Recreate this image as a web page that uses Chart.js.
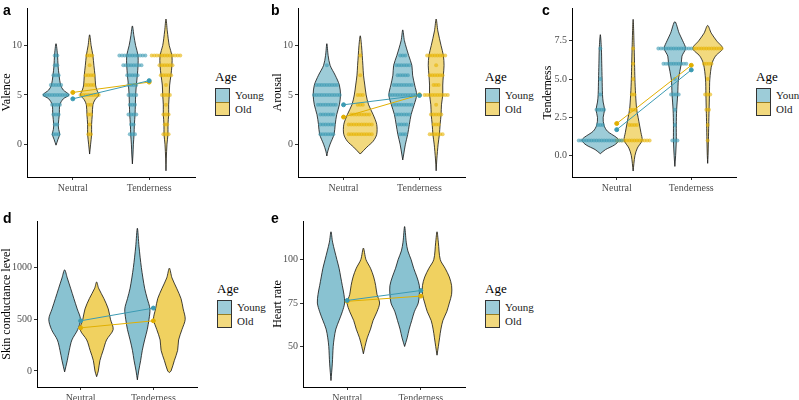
<!DOCTYPE html>
<html>
<head>
<meta charset="utf-8">
<script src="https://cdn.jsdelivr.net/npm/chart.js@4.4.1/dist/chart.umd.min.js"></script>
<style>
  body { margin: 0; width: 799px; height: 400px; overflow: hidden; background: #fff; position: relative; }
  canvas { position: absolute; }
  .tag { position: absolute; font: bold 14px "Liberation Sans", Arial, sans-serif; color: #000; }
  .legend { position: absolute; font-family: "Liberation Serif", serif; font-weight: normal; color: #000; }
  .legend .title { font-size: 13px; margin-bottom: 3px; }
  .legend .row { display: flex; align-items: center; height: 14px; font-size: 11px; font-weight: normal; color: #1a1a1a; }
  .legend .box { width: 13px; height: 13px; border: 1px solid #333; margin-right: 5px; box-sizing: content-box; }
  .legend .row + .row .box { border-top: none; }
</style>
</head>
<body>
<script>
// categories and groups
const categories = ['Neutral', 'Tenderness'];
const groups = ['Young', 'Old'];

// violin outlines: [value, relative half width (% of category spacing)]
const valenceYoungNeutral = [[-0.1,0],[0.5,2.6],[1,4.8],[1.5,3.5],[2,3],[3,4.3],[4,5],[4.6,9.5],[5,17],[5.5,9.5],[6,6],[7,4],[8,2.6],[9,2],[10.2,0]];
const valenceOldNeutral = [[-1,0],[0,1.3],[1,2.6],[2,2.6],[3,3.5],[4,4.3],[4.5,7],[5,12],[5.5,9.5],[6,7.8],[7,7],[8,5.6],[9,4.3],[10,2],[11.1,0]];
const valenceYoungTender = [[-2,0],[-1,0.8],[0,1.3],[1,2.2],[2,2.6],[3,3.5],[4,3.9],[5,4.3],[6,5.2],[7,6.5],[8,7.4],[9,7.4],[10,4.3],[11,2],[12,0]];
const valenceOldTender = [[-2.7,0],[-1.5,0.4],[0,1.3],[1,2.6],[2,2.6],[3,3.5],[4,3.5],[5,4.3],[6,4.8],[7,6.5],[8,7.8],[9,7.8],[10,4.3],[11.5,1.7],[12.7,0]];

const arousalYoungNeutral = [[-1.2,0],[-0.7,1.3],[0,4.3],[1,9.5],[2,11],[3,13],[4,16.5],[5,18],[6,16.5],[7,11],[8,4.3],[9,1.7],[10.2,0]];
const arousalOldNeutral = [[-1,0],[-0.3,8.7],[0.3,17],[1,21.7],[2,21.7],[3,17],[4,11],[5,7.8],[6,6],[7,4.3],[8,3.5],[9,2.6],[10,1.7],[11,0]];
const arousalYoungTender = [[-1.6,0],[-1,1.3],[0,3.5],[1,6.5],[2,8.7],[3,11],[4,15],[5,18.3],[6,15.7],[7,13],[8,12],[9,7.8],[10.5,2.2],[11.6,0]];
const arousalOldTender = [[-2.7,0],[-1.5,0.9],[0,2.6],[1,4.3],[2,5.2],[3,6.5],[4,7],[5,8.7],[6,8.7],[7,9.5],[8,10.4],[9,9.5],[10,6.5],[11.5,2.2],[12.7,0]];

const tenderYoungNeutral = [[0.13,0],[0.4,7],[0.7,19],[1,24.8],[1.2,21.4],[1.6,9.5],[2,4.8],[2.5,3.8],[3,5.7],[3.5,3.8],[4,2.9],[5,2.4],[6,1.9],[7,1.4],[7.9,0]];
const tenderOldNeutral = [[-1,0],[0,2.4],[0.5,5.7],[1,12],[1.5,10.5],[2,8.6],[2.5,6.7],[3,4.8],[4,3.3],[5,2.4],[6,1.9],[7,1.4],[8.9,0]];
const tenderYoungTender = [[-0.7,0],[0,1],[1,1.9],[2,1.9],[3,2.4],[4,3.8],[5,4.8],[6,8.6],[6.5,9.5],[7,14.3],[7.5,10.5],[8,5.7],[8.75,0]];
const tenderOldTender = [[-0.5,0],[0,0.5],[1,1],[2,1.4],[3,1.9],[4,2.4],[5,2.9],[6,5.7],[6.5,10.5],[7,20],[7.5,12],[8,4.8],[8.5,0]];

const scYoungNeutral = [[-9,0],[100,3.6],[200,6.4],[300,10],[400,18],[500,21.8],[600,17.3],[700,12.7],[800,8.2],[900,3.6],[978,0]];
const scOldNeutral = [[-55,0],[0,2.3],[100,4.5],[200,9],[300,13.6],[400,22.7],[500,19],[600,16],[700,10],[800,2.7],[861,0]];
const scYoungTender = [[-86,0],[0,1.8],[100,4.5],[200,6.8],[300,10],[400,13.6],[500,16],[600,17.3],[700,13.6],[800,10],[1000,5.5],[1200,2.3],[1380,0]];
const scOldTender = [[-15,0],[0,2.3],[100,6.8],[200,11.4],[300,12.7],[400,17.3],[500,21.8],[600,19],[700,16],[800,10],[900,3.6],[994,0]];

const hrYoungNeutral = [[30.4,0],[40,1.8],[50,3],[55,4.4],[60,6.6],[65,11],[70,15.4],[75,18.5],[80,17.6],[85,15.4],[90,13.2],[95,11],[100,8],[110,2.2],[116,0]];
const hrOldNeutral = [[45.8,0],[50,2.2],[55,5.3],[60,9.7],[65,13.2],[70,18.5],[75,22],[80,18.5],[85,16.7],[90,14],[95,9.7],[100,3.5],[106.6,0]];
const hrYoungTender = [[50,0],[55,3.5],[60,6.2],[65,9.7],[70,13.2],[75,18.5],[80,20],[85,20],[90,16.7],[95,12.3],[100,8.8],[105,4.4],[110,2.2],[119,0]];
const hrOldTender = [[45,0],[50,1.8],[55,3.5],[60,5.3],[65,8],[70,13.2],[75,16.7],[80,19.8],[85,19.8],[90,16.7],[95,11],[100,4.4],[110,1.8],[116,0]];

// rating levels and how many dots sit on each level (levels 1..9 or 1..7)
const levels9 = [1,2,3,4,5,6,7,8,9];
const levels7 = [1,2,3,4,5,6,7];
const valenceDotsYoungNeutral = [3,2,3,4,10,5,3,2,2];
const valenceDotsOldNeutral = [2,1,2,2,8,4,4,1,3];
const valenceDotsYoungTender = [3,2,4,3,4,4,5,8,11];
const valenceDotsOldTender = [3,2,3,1,4,1,5,6,12];
const arousalDotsYoungNeutral = [6,6,6,8,11,9,0,1,0];
const arousalDotsOldNeutral = [10,10,8,3,3,0,1,0,1];
const arousalDotsYoungTender = [3,4,6,8,11,8,5,6,3];
const arousalDotsOldTender = [6,3,5,1,10,3,6,1,8];
const tenderDotsYoungNeutral = [18,3,4,1,1,0,1];
const tenderDotsOldNeutral = [14,4,3,2,1,1,1];
const tenderDotsYoungTender = [3,1,1,4,1,10,14];
const tenderDotsOldTender = [1,1,2,3,1,4,12];

// group means (Neutral, Tenderness)
const valenceMeanYoung = [4.6, 6.45];
const valenceMeanOld = [5.25, 6.3];
const arousalMeanYoung = [4.0, 4.95];
const arousalMeanOld = [2.75, 5.0];
const tenderMeanYoung = [1.7, 5.6];
const tenderMeanOld = [2.1, 5.9];
const scMeanYoung = [485, 608];
const scMeanOld = [417, 485];
const hrMeanYoung = [76.5, 82.2];
const hrMeanOld = [76, 79];

// y tick labels
const valenceTicks = [0, 5, 10];
const arousalTicks = [0, 5, 10];
const tenderTicks = [0, 2.5, 5, 7.5];
const scTicks = [0, 500, 1000];
const hrTicks = [50, 75, 100];

// styling
const SERIF = '"Liberation Serif", "Times New Roman", serif';
const YOUNG_FILL = 'rgba(59,154,178,0.5)';
const OLD_FILL = 'rgba(232,186,20,0.55)';
const YOUNG_FILL_DENSE = 'rgba(59,154,178,0.6)';
const OLD_FILL_DENSE = 'rgba(232,184,10,0.65)';
const YOUNG_DOT = 'rgba(59,154,178,0.6)';
const OLD_DOT = 'rgba(230,178,0,0.6)';
const YOUNG_LINE = '#3B9AB2';
const OLD_LINE = '#E1AF00';
const DODGE = 0.22;
const DOT_STEP = 0.034;

function violinPoints(outline, center) {
  const right = outline.map(p => ({ x: center + p[1] / 100, y: p[0] }));
  const left = outline.slice(0, -1).reverse().map(p => ({ x: center - p[1] / 100, y: p[0] }));
  return right.concat(left);
}

function dotPoints(levels, counts, center) {
  const pts = [];
  levels.forEach((lv, i) => {
    const n = counts[i];
    for (let k = 0; k < n; k++) {
      pts.push({ x: center + (k - (n - 1) / 2) * DOT_STEP, y: lv });
    }
  });
  return pts;
}

function makePanel(p) {
  const canvas = document.createElement('canvas');
  const cLeft = p.canvasLeft;
  const cTop = p.plot.top - 2;
  const w = p.plot.right + 2 - cLeft;
  const h = p.plot.bottom + 26 - cTop;
  canvas.width = w; canvas.height = h;
  canvas.style.left = cLeft + 'px';
  canvas.style.top = cTop + 'px';
  canvas.style.width = w + 'px';
  canvas.style.height = h + 'px';
  document.body.appendChild(canvas);

  const datasets = [];
  // mean lines on top
  datasets.push({ data: [1, 2].map((x, i) => ({ x, y: p.meanYoung[i] })), showLine: true, borderColor: YOUNG_LINE, backgroundColor: YOUNG_LINE, borderWidth: 1, pointRadius: 2, order: 0 });
  datasets.push({ data: [1, 2].map((x, i) => ({ x, y: p.meanOld[i] })), showLine: true, borderColor: OLD_LINE, backgroundColor: OLD_LINE, borderWidth: 1, pointRadius: 2, order: 0 });

  // dots
  if (p.dots) {
    p.dots.forEach((d, i) => {
      const young = i % 2 === 0;
      const center = Math.floor(i / 2) + 1 + (young ? -DODGE : DODGE);
      datasets.push({ data: dotPoints(p.levels, d, center), backgroundColor: young ? YOUNG_DOT : OLD_DOT, borderWidth: 0, pointRadius: 2, order: 1 });
    });
  }

  // violins
  p.violins.forEach((v, i) => {
    const young = i % 2 === 0;
    const center = Math.floor(i / 2) + 1 + (young ? -DODGE : DODGE);
    const fillCol = p.dots ? (young ? YOUNG_FILL : OLD_FILL) : (young ? YOUNG_FILL_DENSE : OLD_FILL_DENSE);
    datasets.push({ data: violinPoints(v, center), showLine: true, fill: 'shape', tension: 0.3,
      backgroundColor: fillCol, borderColor: '#111', borderWidth: 0.8, pointRadius: 0, order: 2 });
  });

  new Chart(canvas, {
    type: 'scatter',
    data: { datasets },
    options: {
      responsive: false,
      animation: false,
      devicePixelRatio: 1,
      layout: { padding: { top: 2, right: 2, left: 0, bottom: 0 } },
      plugins: { legend: { display: false }, tooltip: { enabled: false } },
      scales: {
        x: {
          type: 'linear', min: 0.4, max: 2.6,
          afterBuildTicks: s => { s.ticks = [{ value: 1 }, { value: 2 }]; },
          afterFit: s => { s.height = 26; },
          ticks: { callback: v => categories[v - 1], autoSkip: false, maxRotation: 0, font: { family: SERIF, size: 10 }, color: '#4d4d4d', padding: 2 },
          grid: { drawOnChartArea: false, drawTicks: true, tickLength: 3, color: '#333' },
          border: { display: true, color: '#000', width: 1 }
        },
        y: {
          type: 'linear', min: p.yMin, max: p.yMax,
          afterBuildTicks: s => { s.ticks = p.ticks.map(v => ({ value: v })); },
          afterFit: s => { s.width = p.plot.left - cLeft; },
          ticks: { callback: v => p.fmt ? v.toFixed(1) : String(v), font: { family: SERIF, size: 10 }, color: '#4d4d4d', padding: 2 },
          grid: { drawOnChartArea: false, drawTicks: true, tickLength: 3, color: '#333' },
          border: { display: true, color: '#000', width: 1 },
          title: { display: true, text: p.title, font: { family: SERIF, size: 12 }, color: '#000', padding: 0 }
        }
      }
    }
  });

  // panel tag
  const tag = document.createElement('div');
  tag.className = 'tag';
  tag.textContent = p.tag;
  tag.style.left = p.tagPos[0] + 'px';
  tag.style.top = p.tagPos[1] + 'px';
  document.body.appendChild(tag);

  // legend
  const lg = document.createElement('div');
  lg.className = 'legend';
  lg.style.left = (p.plot.right + 17) + 'px';
  lg.style.top = p.legendTop + 'px';
  lg.innerHTML = '<div class="title">Age</div>' + groups.map((g, i) =>
    '<div class="row"><div class="box" style="background:' + (i === 0 ? YOUNG_FILL : OLD_FILL) + '"></div>' + g + '</div>').join('');
  document.body.appendChild(lg);
}

const panels = [
  { tag: 'a', tagPos: [3, 2], title: 'Valence', canvasLeft: 0, plot: { left: 27, right: 198, top: 2, bottom: 177 },
    yMin: -3.33, yMax: 13.82, ticks: valenceTicks, legendTop: 69,
    violins: [valenceYoungNeutral, valenceOldNeutral, valenceYoungTender, valenceOldTender],
    levels: levels9, dots: [valenceDotsYoungNeutral, valenceDotsOldNeutral, valenceDotsYoungTender, valenceDotsOldTender],
    meanYoung: valenceMeanYoung, meanOld: valenceMeanOld },
  { tag: 'b', tagPos: [271, 2], title: 'Arousal', canvasLeft: 271, plot: { left: 298, right: 468, top: 2, bottom: 177 },
    yMin: -3.33, yMax: 13.82, ticks: arousalTicks, legendTop: 69,
    violins: [arousalYoungNeutral, arousalOldNeutral, arousalYoungTender, arousalOldTender],
    levels: levels9, dots: [arousalDotsYoungNeutral, arousalDotsOldNeutral, arousalDotsYoungTender, arousalDotsOldTender],
    meanYoung: arousalMeanYoung, meanOld: arousalMeanOld },
  { tag: 'c', tagPos: [542, 2], title: 'Tenderness', canvasLeft: 541, plot: { left: 572, right: 739, top: 2, bottom: 177 },
    yMin: -1.39, yMax: 9.64, ticks: tenderTicks, fmt: true, legendTop: 69,
    violins: [tenderYoungNeutral, tenderOldNeutral, tenderYoungTender, tenderOldTender],
    levels: levels7, dots: [tenderDotsYoungNeutral, tenderDotsOldNeutral, tenderDotsYoungTender, tenderDotsOldTender],
    meanYoung: tenderMeanYoung, meanOld: tenderMeanOld },
  { tag: 'd', tagPos: [3, 210], title: 'Skin conductance level', canvasLeft: 0, plot: { left: 37, right: 200, top: 215, bottom: 387 },
    yMin: -155, yMax: 1450, ticks: scTicks, legendTop: 281,
    violins: [scYoungNeutral, scOldNeutral, scYoungTender, scOldTender],
    meanYoung: scMeanYoung, meanOld: scMeanOld },
  { tag: 'e', tagPos: [271, 210], title: 'Heart rate', canvasLeft: 271, plot: { left: 303, right: 468, top: 215, bottom: 387 },
    yMin: 26.7, yMax: 122.2, ticks: hrTicks, legendTop: 281,
    violins: [hrYoungNeutral, hrOldNeutral, hrYoungTender, hrOldTender],
    meanYoung: hrMeanYoung, meanOld: hrMeanOld }
];

panels.forEach(makePanel);
</script>
</body>
</html>
